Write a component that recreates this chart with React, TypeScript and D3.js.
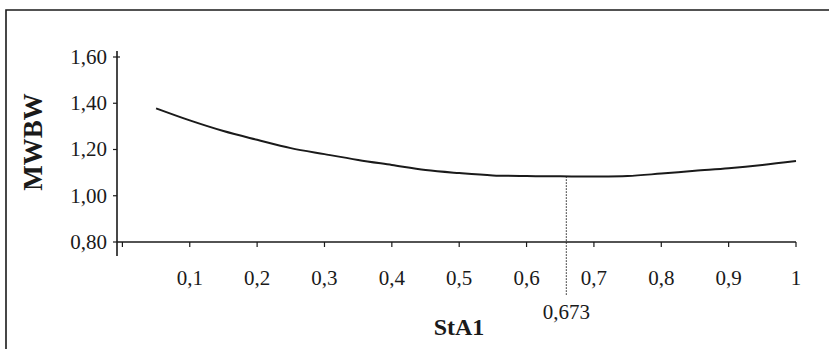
import React, { useEffect, useRef } from 'react';
import * as d3 from 'd3';

// StA1 values (x) and the MWBW
const stA1 = [0.05, 0.1, 0.15, 0.2, 0.25, 0.3, 0.35, 0.4, 0.45, 0.5, 0.55, 0.6, 0.65, 0.7, 0.75, 0.8, 0.85, 0.9, 0.95, 1];
const mwbw = [1.378, 1.326, 1.28, 1.242, 1.206, 1.18, 1.155, 1.133, 1.111, 1.098, 1.088, 1.085, 1.084, 1.083, 1.085, 1.096, 1.108, 1.119, 1.133, 1.15];

const xTicks = [0.1, 0.2, 0.3, 0.4, 0.5, 0.6, 0.7, 0.8, 0.9, 1];
const yTicks = [0.8, 1.0, 1.2, 1.4, 1.6];

// minimum marker (drawn where the picture puts it, labelled as printed)
const optimumX = 0.659;
const optimumY = 1.084;
const optimumLabel = '0,673';

const FONT = "'Liberation Serif', 'Times New Roman', serif";
const INK = '#1a1a1a';

const fmtX = (d: number) => (d === 1 ? '1' : d3.format('.1f')(d).replace('.', ','));
const fmtY = (d: number) => d3.format('.2f')(d).replace('.', ',');

const App = () => {
  const svgRef = useRef<SVGSVGElement>(null);

  useEffect(() => {
    const svg = d3.select(svgRef.current);
    svg.selectAll('*').remove();

    const width = 829;
    const height = 349;

    const x = d3.scaleLinear().domain([0, 1]).range([122.4, 796]);
    const y = d3.scaleLinear().domain([0.8, 1.6]).range([242, 57]);

    // outer frame (top + left only)
    svg.append('path')
      .attr('d', `M6,${height} V10 H${width}`)
      .attr('fill', 'none')
      .attr('stroke', INK)
      .attr('stroke-width', 1.6);

    // y axis
    const yAxis = svg.append('g').attr('transform', `translate(117,0)`);
    yAxis.append('line')
      .attr('y1', 51).attr('y2', 256)
      .attr('stroke', INK).attr('stroke-width', 1.6);
    yAxis.selectAll('line.tick')
      .data(yTicks)
      .enter()
      .append('line')
      .attr('class', 'tick')
      .attr('x1', -4)
      .attr('x2', (d) => (d === 1.6 ? 3 : 0))
      .attr('y1', (d) => y(d))
      .attr('y2', (d) => y(d))
      .attr('stroke', INK)
      .attr('stroke-width', 1.2);
    yAxis.selectAll('text')
      .data(yTicks)
      .enter()
      .append('text')
      .attr('x', -10)
      .attr('y', (d) => y(d))
      .attr('dy', '0.33em')
      .attr('text-anchor', 'end')
      .attr('font-family', FONT)
      .attr('font-size', 21)
      .attr('fill', INK)
      .text(fmtY);

    // x axis
    const xAxis = svg.append('g').attr('transform', `translate(0,${y(0.8)})`);
    xAxis.append('line')
      .attr('x1', 117).attr('x2', x(1))
      .attr('stroke', INK).attr('stroke-width', 1.4);
    xAxis.selectAll('line.tick')
      .data([0, ...xTicks])
      .enter()
      .append('line')
      .attr('class', 'tick')
      .attr('x1', (d) => x(d))
      .attr('x2', (d) => x(d))
      .attr('y1', 0)
      .attr('y2', 5)
      .attr('stroke', INK)
      .attr('stroke-width', 1.2);
    xAxis.selectAll('text')
      .data(xTicks)
      .enter()
      .append('text')
      .attr('x', (d) => x(d))
      .attr('y', 43)
      .attr('text-anchor', 'middle')
      .attr('font-family', FONT)
      .attr('font-size', 21)
      .attr('fill', INK)
      .text(fmtX);

    // curve
    const line = d3.line<number>()
      .x((d, i) => x(stA1[i]))
      .y((d) => y(d))
      .curve(d3.curveCatmullRom);
    svg.append('path')
      .datum(mwbw)
      .attr('d', line)
      .attr('fill', 'none')
      .attr('stroke', INK)
      .attr('stroke-width', 2);

    // dotted drop line at the minimum
    svg.append('line')
      .attr('x1', x(optimumX))
      .attr('x2', x(optimumX))
      .attr('y1', y(optimumY))
      .attr('y2', 295)
      .attr('stroke', INK)
      .attr('stroke-width', 1)
      .attr('stroke-dasharray', '1.5,1.5');
    svg.append('text')
      .attr('x', x(optimumX))
      .attr('y', 319)
      .attr('text-anchor', 'middle')
      .attr('font-family', FONT)
      .attr('font-size', 21)
      .attr('fill', INK)
      .text(optimumLabel);

    // axis titles
    svg.append('text')
      .attr('x', 459)
      .attr('y', 335)
      .attr('text-anchor', 'middle')
      .attr('font-family', FONT)
      .attr('font-weight', 'bold')
      .attr('font-size', 24)
      .attr('fill', INK)
      .text('StA1');
    svg.append('text')
      .attr('transform', 'translate(42,142) rotate(-90)')
      .attr('text-anchor', 'middle')
      .attr('font-family', FONT)
      .attr('font-weight', 'bold')
      .attr('font-size', 27)
      .attr('fill', INK)
      .text('MWBW');
  }, []);

  return (
    <svg
      ref={svgRef}
      width={829}
      height={349}
      style={{ position: 'absolute', left: 0, top: 0, background: '#fff' }}
    />
  );
};

export default App;
